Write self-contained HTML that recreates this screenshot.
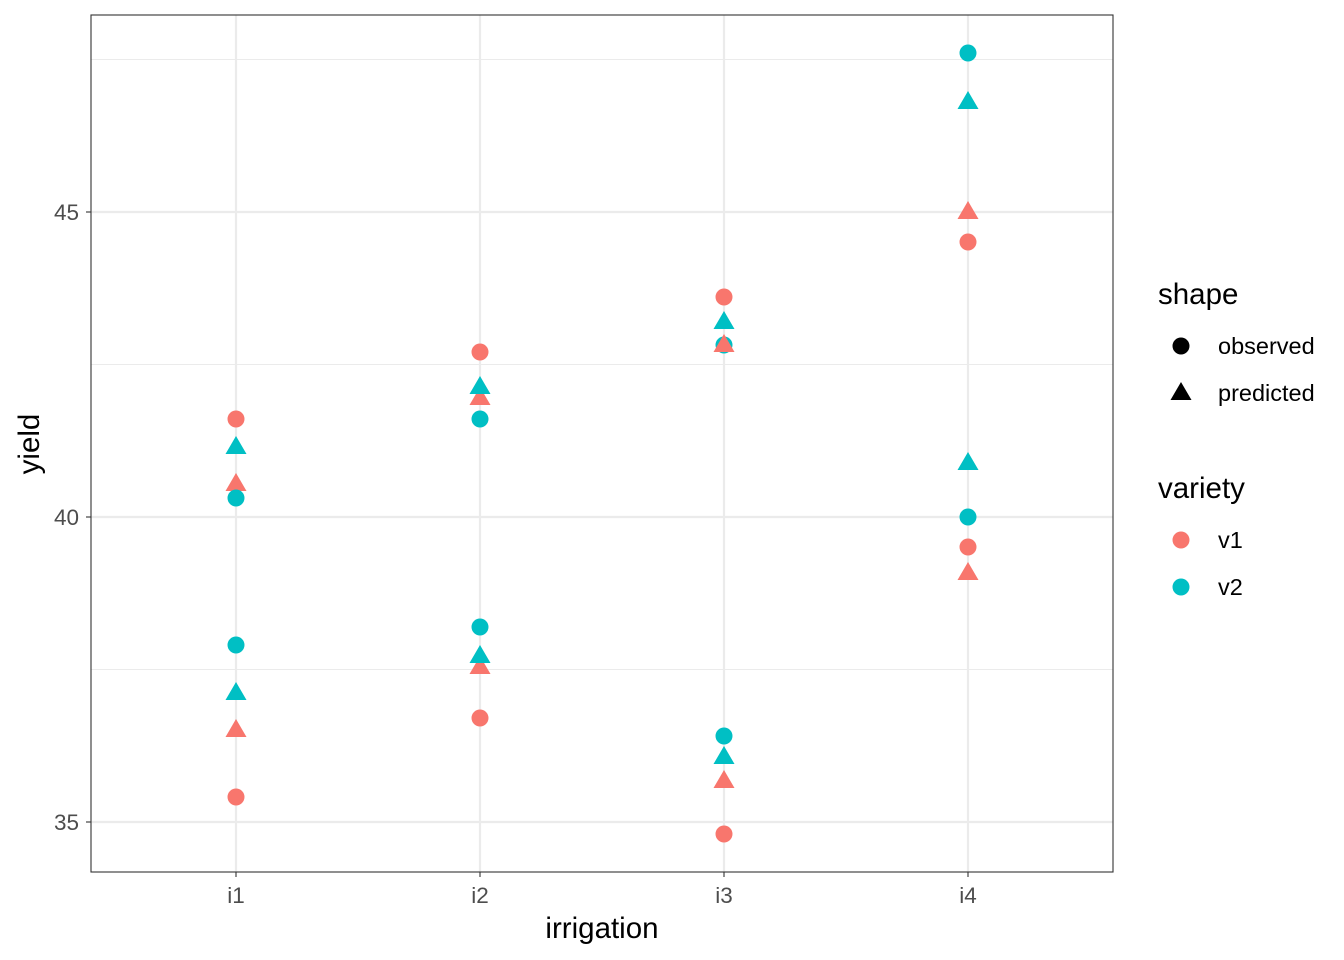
<!DOCTYPE html>
<html><head><meta charset="utf-8"><style>body{margin:0;background:#fff}svg{display:block}text{font-family:"Liberation Sans",sans-serif}</style></head><body>
<svg width="1344" height="960" viewBox="0 0 1344 960" xmlns="http://www.w3.org/2000/svg">
<defs>
<symbol id="c" overflow="visible"><circle cx="0" cy="0" r="8.5"/></symbol>
<symbol id="t" overflow="visible"><polygon points="0,-11 10.5,7 -10.5,7"/></symbol>
</defs>
<rect x="91" y="15" width="1022" height="857" fill="#fff"/>
<g stroke="#ebebeb" stroke-width="1.1">
<line x1="91" x2="1113" y1="59.5" y2="59.5"/><line x1="91" x2="1113" y1="364.5" y2="364.5"/><line x1="91" x2="1113" y1="669.5" y2="669.5"/>
</g>
<g stroke="#ebebeb" stroke-width="2.2">
<line x1="91" x2="1113" y1="212" y2="212"/><line x1="91" x2="1113" y1="517" y2="517"/><line x1="91" x2="1113" y1="822" y2="822"/>
<line x1="236" x2="236" y1="15" y2="872"/><line x1="480" x2="480" y1="15" y2="872"/><line x1="724" x2="724" y1="15" y2="872"/><line x1="968" x2="968" y1="15" y2="872"/>
</g>
<g fill="#F8766D">
<use href="#c" x="236" y="419"/><use href="#t" x="236" y="484"/><use href="#t" x="236" y="730"/><use href="#c" x="236" y="797"/>
<use href="#c" x="480" y="352"/><use href="#t" x="480" y="398"/><use href="#t" x="480" y="667"/><use href="#c" x="480" y="718"/>
<use href="#c" x="724" y="297"/><use href="#c" x="724" y="834"/><use href="#t" x="724" y="781"/>
<use href="#t" x="968" y="212"/><use href="#c" x="968" y="242"/><use href="#c" x="968" y="547"/><use href="#t" x="968" y="573"/>
</g>
<g fill="#00BFC4">
<use href="#t" x="236" y="447"/><use href="#c" x="236" y="498"/><use href="#c" x="236" y="645"/><use href="#t" x="236" y="693"/>
<use href="#t" x="480" y="387"/><use href="#c" x="480" y="419"/><use href="#c" x="480" y="627"/><use href="#t" x="480" y="656"/>
<use href="#c" x="724" y="345"/><use href="#t" x="724" y="322"/><use href="#c" x="724" y="736"/><use href="#t" x="724" y="757"/>
<use href="#c" x="968" y="53"/><use href="#t" x="968" y="102"/><use href="#t" x="968" y="463"/><use href="#c" x="968" y="517"/>
</g>
<g fill="#F8766D"><use href="#t" x="724" y="345"/></g>
<rect x="91" y="15" width="1022" height="857" fill="none" stroke="#333" stroke-width="1.1"/>
<g stroke="#333" stroke-width="1.1">
<line x1="86" x2="91" y1="212" y2="212"/><line x1="86" x2="91" y1="517" y2="517"/><line x1="86" x2="91" y1="822" y2="822"/>
<line x1="236" x2="236" y1="872" y2="877"/><line x1="480" x2="480" y1="872" y2="877"/><line x1="724" x2="724" y1="872" y2="877"/><line x1="968" x2="968" y1="872" y2="877"/>
</g>
<g fill="#4d4d4d" font-size="22.5" text-anchor="end">
<text x="79" y="220">45</text><text x="79" y="525">40</text><text x="79" y="830">35</text>
</g>
<g fill="#4d4d4d" font-size="22.5" text-anchor="middle">
<text x="236" y="903">i1</text><text x="480" y="903">i2</text><text x="724" y="903">i3</text><text x="968" y="903">i4</text>
</g>
<text x="602" y="938" font-size="29.5" text-anchor="middle">irrigation</text>
<text transform="translate(39,444) rotate(-90)" font-size="29.5" text-anchor="middle">yield</text>
<text x="1158" y="304" font-size="29.5">shape</text>
<use href="#c" x="1181" y="346" fill="#000"/>
<use href="#t" x="1181" y="393" fill="#000"/>
<text x="1218" y="354" font-size="23.5">observed</text>
<text x="1218" y="401" font-size="23.5">predicted</text>
<text x="1158" y="498" font-size="29.5">variety</text>
<use href="#c" x="1181" y="540" fill="#F8766D"/>
<use href="#c" x="1181" y="587" fill="#00BFC4"/>
<text x="1218" y="548" font-size="23.5">v1</text>
<text x="1218" y="595" font-size="23.5">v2</text>
</svg>
</body></html>
